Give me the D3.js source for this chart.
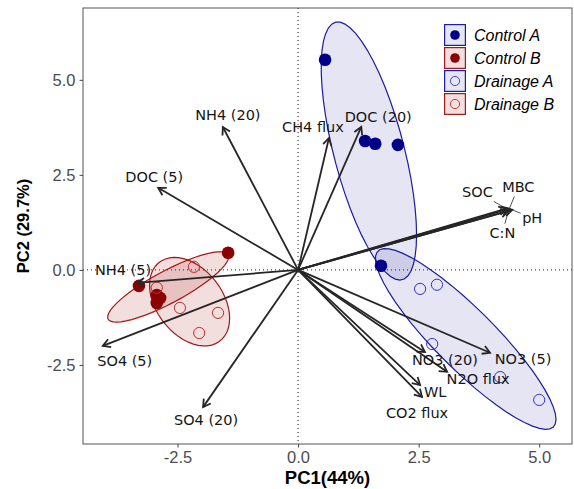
<!DOCTYPE html>
<html><head><meta charset="utf-8">
<script src="https://cdn.jsdelivr.net/npm/d3@7"></script>
<style>body{margin:0;background:#fff}svg{display:block}</style>
</head><body><svg id="chart" width="574" height="489"></svg>
<script>
// ---------------- data ----------------
const groups = ["Control A", "Control B", "Drainage A", "Drainage B"];
const controlA_PC1 = [0.56, 1.39, 1.60, 2.07, 1.72];
const controlA_PC2 = [5.53, 3.39, 3.32, 3.29, 0.11];
const controlB_PC1 = [-1.45, -3.30, -2.93, -2.86, -2.93];
const controlB_PC2 = [0.45, -0.42, -0.66, -0.74, -0.87];
const drainageA_PC1 = [2.53, 2.88, 2.78, 4.19, 5.00];
const drainageA_PC2 = [-0.50, -0.39, -1.95, -2.82, -3.42];
const drainageB_PC1 = [-2.16, -2.93, -2.45, -1.66, -2.05];
const drainageB_PC2 = [0.08, -0.47, -1.00, -1.13, -1.66];

const loadingNames = ["NH4 (20)", "CH4 flux", "DOC (20)", "DOC (5)", "NH4 (5)", "SO4 (5)", "SO4 (20)",
  "SOC", "MBC", "pH", "C:N", "NO3 (5)", "NO3 (20)", "N2O flux", "WL", "CO2 flux"];
const loadingPC1 = [-1.56, 0.64, 1.31, -2.90, -3.34, -4.05, -1.97, 4.32, 4.38, 4.44, 4.36, 3.98, 2.63, 3.09, 2.53, 2.57];
const loadingPC2 = [3.76, 3.47, 3.76, 2.16, -0.34, -2.00, -3.61, 1.61, 1.61, 1.58, 1.55, -2.18, -2.16, -2.68, -3.03, -3.34];

const xTicks = [-2.5, 0, 2.5, 5];
const yTicks = [-2.5, 0, 2.5, 5];
const xTitle = "PC1(44%)";
const yTitle = "PC2 (29.7%)";
const ellipseLevel = 0.68;

// ---------------- layout / style ----------------
const groupData = [
  {name: groups[0], x: controlA_PC1, y: controlA_PC2},
  {name: groups[1], x: controlB_PC1, y: controlB_PC2},
  {name: groups[2], x: drainageA_PC1, y: drainageA_PC2},
  {name: groups[3], x: drainageB_PC1, y: drainageB_PC2}
];
const style = {
  "Control A":  {filled: true,  pt: "#00008B", line: "#1C1CA6", fill: "rgba(0,0,139,0.10)"},
  "Control B":  {filled: true,  pt: "#8B0000", line: "#A51818", fill: "rgba(160,0,0,0.13)"},
  "Drainage A": {filled: false, pt: "#3535C0", line: "#1C1CA6", fill: "rgba(0,0,139,0.10)"},
  "Drainage B": {filled: false, pt: "#B83030", line: "#A51818", fill: "rgba(160,0,0,0.13)"}
};
// label offsets in pixels from arrow tip (repelled label placement)
const labelOffset = {
  "NH4 (20)": [5, -12], "CH4 flux": [-16, -11], "DOC (20)": [17, -10], "DOC (5)": [-4, -11],
  "NH4 (5)": [-14, -13], "SO4 (5)": [22, 15], "SO4 (20)": [3, 13], "SOC": [-29, -17],
  "MBC": [9, -22], "pH": [20, 8], "C:N": [-6, 22], "NO3 (5)": [33, 6], "NO3 (20)": [20, 8],
  "N2O flux": [31, 7], "WL": [15, 7], "CO2 flux": [-5, 16]
};
const withSegment = new Set(["SOC", "MBC", "pH", "C:N"]);

const panel = {left: 83, right: 572, top: 8, bottom: 444};
const svg = d3.select("#chart");
const x = d3.scaleLinear().domain([-4.46, 5.68]).range([panel.left, panel.right]);
const y = d3.scaleLinear().domain([-4.58, 6.89]).range([panel.bottom, panel.top]);

const defs = svg.append("defs");
defs.append("clipPath").attr("id", "clip").append("rect")
  .attr("x", panel.left).attr("y", panel.top)
  .attr("width", panel.right - panel.left).attr("height", panel.bottom - panel.top);

const plot = svg.append("g").attr("clip-path", "url(#clip)");

// reference lines
plot.append("line").attr("x1", x(0)).attr("x2", x(0)).attr("y1", panel.top).attr("y2", panel.bottom)
  .attr("stroke", "#222").attr("stroke-width", 1).attr("stroke-dasharray", "1,3");
plot.append("line").attr("y1", y(0)).attr("y2", y(0)).attr("x1", panel.left).attr("x2", panel.right)
  .attr("stroke", "#222").attr("stroke-width", 1).attr("stroke-dasharray", "1,3");

// normal-theory data ellipse (as stat_ellipse type = "norm")
function ellipse(xs, ys, level) {
  const n = xs.length;
  const mx = d3.mean(xs), my = d3.mean(ys);
  let sxx = 0, syy = 0, sxy = 0;
  for (let i = 0; i < n; i++) {
    sxx += (xs[i] - mx) ** 2; syy += (ys[i] - my) ** 2; sxy += (xs[i] - mx) * (ys[i] - my);
  }
  sxx /= n - 1; syy /= n - 1; sxy /= n - 1;
  const dfd = n - 1;
  const qf = (dfd / 2) * (Math.pow(1 - level, -2 / dfd) - 1);
  const r = Math.sqrt(2 * qf);
  const a = Math.sqrt(sxx), b = sxy / a, c = Math.sqrt(syy - b * b);
  const pts = [];
  for (let k = 0; k <= 51; k++) {
    const t = k * 2 * Math.PI / 51;
    const u = Math.cos(t), v = Math.sin(t);
    pts.push([mx + r * a * u, my + r * (b * u + c * v)]);
  }
  return pts;
}
const line = d3.line().x(d => x(d[0])).y(d => y(d[1]));
groupData.forEach(g => {
  plot.append("path").attr("d", line(ellipse(g.x, g.y, ellipseLevel)) + "Z")
    .attr("fill", style[g.name].fill).attr("stroke", style[g.name].line).attr("stroke-width", 1.2);
});

// points
groupData.forEach(g => {
  const s = style[g.name];
  plot.selectAll(null).data(d3.range(g.x.length)).enter().append("circle")
    .attr("cx", i => x(g.x[i])).attr("cy", i => y(g.y[i]))
    .attr("r", s.filled ? 6.3 : 5.6)
    .attr("fill", s.filled ? s.pt : "none")
    .attr("stroke", s.pt).attr("stroke-width", s.filled ? 0 : 1);
});

// loading arrows
const arrowCol = "#262626";
const ag = plot.append("g");
loadingNames.forEach((nm, i) => {
  const x0 = x(0), y0 = y(0), x1 = x(loadingPC1[i]), y1 = y(loadingPC2[i]);
  const ang = Math.atan2(y1 - y0, x1 - x0);
  const L = 8.5, h = Math.PI / 6;
  ag.append("line").attr("x1", x0).attr("y1", y0).attr("x2", x1).attr("y2", y1)
    .attr("stroke", arrowCol).attr("stroke-width", 1.8);
  const p1 = [x1 - L * Math.cos(ang - h), y1 - L * Math.sin(ang - h)];
  const p2 = [x1 - L * Math.cos(ang + h), y1 - L * Math.sin(ang + h)];
  ag.append("path").attr("d", `M${p1[0]},${p1[1]}L${x1},${y1}L${p2[0]},${p2[1]}`)
    .attr("fill", "none").attr("stroke", arrowCol).attr("stroke-width", 1.8)
    .attr("stroke-linejoin", "miter");
});

// labels
const lg = svg.append("g");
loadingNames.forEach((nm, i) => {
  const tx = x(loadingPC1[i]), ty = y(loadingPC2[i]);
  const off = labelOffset[nm];
  const cx = tx + off[0], cy = ty + off[1];
  const t = lg.append("text").attr("x", cx).attr("y", cy).attr("dy", "0.36em")
    .attr("text-anchor", "middle").attr("font-family", "DejaVu Sans")
    .attr("font-size", 14.5).attr("fill", "#151515").text(nm);
  if (withSegment.has(nm)) {
    const bb = t.node().getBBox();
    const pad = 1.5;
    const hw = bb.width / 2 + pad, hh = bb.height / 2 + pad;
    const bcx = bb.x + bb.width / 2, bcy = bb.y + bb.height / 2;
    const dx = tx - bcx, dy = ty - bcy;
    const s = Math.min(Math.abs(dx) > 0 ? hw / Math.abs(dx) : Infinity, Math.abs(dy) > 0 ? hh / Math.abs(dy) : Infinity);
    lg.insert("line", ":first-child").attr("x1", bcx + dx * s).attr("y1", bcy + dy * s)
      .attr("x2", tx).attr("y2", ty).attr("stroke", "#222").attr("stroke-width", 0.8);
  }
});

// panel border
svg.append("rect").attr("x", panel.left).attr("y", panel.top)
  .attr("width", panel.right - panel.left).attr("height", panel.bottom - panel.top)
  .attr("fill", "none").attr("stroke", "#555").attr("stroke-width", 1);

// axes
const fmt = d => d.toFixed(1);
const xAxis = svg.append("g").attr("transform", `translate(0,${panel.bottom})`)
  .call(d3.axisBottom(x).tickValues(xTicks).tickFormat(fmt).tickSize(3.5).tickPadding(4));
const yAxis = svg.append("g").attr("transform", `translate(${panel.left},0)`)
  .call(d3.axisLeft(y).tickValues(yTicks).tickFormat(fmt).tickSize(3.5).tickPadding(4));
[xAxis, yAxis].forEach(a => {
  a.select(".domain").remove();
  a.selectAll(".tick line").attr("stroke", "#444");
  a.selectAll(".tick text").attr("font-family", "Liberation Sans").attr("font-size", 16.5)
    .attr("fill", "#4D4D4D");
});

svg.append("text").attr("x", (panel.left + panel.right) / 2).attr("y", 484)
  .attr("text-anchor", "middle").attr("font-family", "Liberation Sans").attr("font-weight", "bold")
  .attr("font-size", 18.5).attr("fill", "#000").text(xTitle);
svg.append("text").attr("transform", `translate(29,${(panel.top + panel.bottom) / 2}) rotate(-90)`)
  .attr("text-anchor", "middle").attr("font-family", "Liberation Sans").attr("font-weight", "bold")
  .attr("font-size", 16.5).attr("fill", "#000").text(yTitle);

// legend
const leg = svg.append("g").attr("transform", "translate(444,24)");
groups.forEach((gname, i) => {
  const s = style[gname];
  const gy = i * 23;
  leg.append("rect").attr("x", 0).attr("y", gy).attr("width", 22).attr("height", 22)
    .attr("fill", "#fff");
  leg.append("rect").attr("x", 0.6).attr("y", gy + 0.6).attr("width", 20.8).attr("height", 20.8)
    .attr("fill", s.fill).attr("stroke", s.line).attr("stroke-width", 1.2);
  leg.append("circle").attr("cx", 11).attr("cy", gy + 11).attr("r", s.filled ? 4.8 : 4.6)
    .attr("fill", s.filled ? s.pt : "none").attr("stroke", s.pt).attr("stroke-width", s.filled ? 0 : 0.9);
  leg.append("text").attr("x", 30).attr("y", gy + 11).attr("dy", "0.36em")
    .attr("font-family", "Liberation Sans").attr("font-style", "italic").attr("font-size", 16)
    .attr("fill", "#000").text(gname);
});
</script></body></html>
